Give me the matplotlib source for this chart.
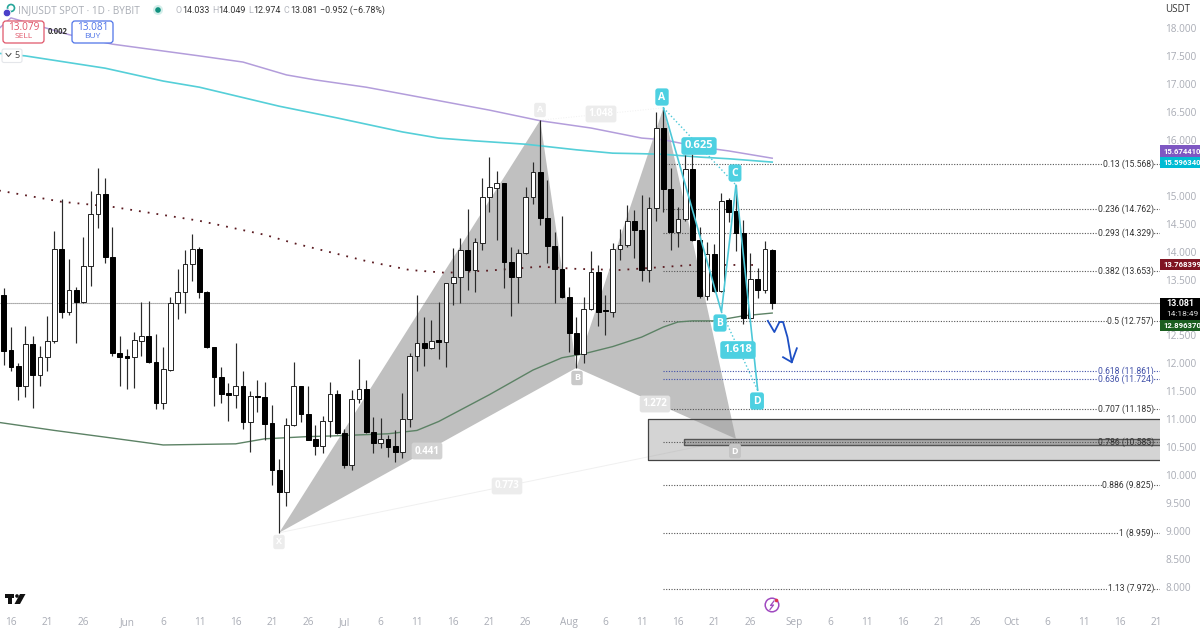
import numpy as np
import matplotlib
matplotlib.use('Agg')
import matplotlib.pyplot as plt
from matplotlib.patches import Rectangle, FancyBboxPatch, Circle, Polygon

plt.rcParams['font.family'] = ['Open Sans', 'DejaVu Sans']

# Daily candles, bar 0 = 15 May
opens = [13.22, 12.24, 11.95, 11.59, 12.35, 11.79, 12.11, 12.40, 14.05, 12.92, 13.31, 13.10, 13.74, 14.67, 15.03, 13.90,
         12.19, 12.12, 12.11, 12.40, 12.49, 12.02, 11.29, 11.88, 13.08, 13.28, 13.78, 14.05, 13.28, 12.29, 11.76, 11.46,
         11.43, 11.59, 10.95, 11.41, 11.40, 10.93, 10.09, 9.70, 10.90, 11.59, 11.09, 10.65, 10.52, 10.97, 11.45, 10.75,
         10.18, 11.36, 11.54, 10.77, 10.58, 10.65, 10.52, 10.41, 11.00, 12.13, 12.36, 12.27, 12.42, 12.38, 13.44, 13.54,
         14.03, 13.67, 14.15, 14.98, 15.14, 15.23, 13.81, 13.54, 13.97, 14.98, 15.42, 14.60, 14.10, 13.69, 13.19, 12.54,
         12.17, 12.97, 13.63, 12.94, 12.92, 14.05, 14.12, 14.55, 14.39, 13.67, 14.78, 16.21, 15.12, 14.35, 14.58, 15.48,
         14.21, 13.20, 13.96, 13.29, 14.92, 14.73, 14.33, 12.81, 13.51, 13.31, 14.033]
highs = [13.35, 12.65, 12.01, 12.67, 12.49, 12.31, 12.85, 14.37, 14.94, 13.87, 13.37, 14.26, 15.08, 15.49, 15.32, 14.44,
         12.49, 12.26, 12.56, 13.10, 13.12, 12.53, 12.29, 13.19, 13.69, 14.03, 14.31, 14.08, 13.29, 12.29, 11.93, 11.65,
         12.36, 11.86, 11.51, 11.70, 11.67, 11.25, 10.29, 11.02, 12.02, 11.59, 11.59, 10.90, 11.06, 11.67, 11.52, 10.83,
         11.52, 12.08, 11.70, 11.04, 11.02, 10.72, 10.81, 11.47, 12.19, 13.22, 12.83, 12.78, 13.10, 13.44, 14.06, 14.24,
         14.76, 14.24, 15.32, 15.69, 15.44, 15.23, 14.08, 14.05, 15.15, 15.60, 16.35, 15.28, 14.35, 14.64, 13.37, 12.83,
         13.19, 14.01, 13.76, 13.22, 14.15, 14.40, 14.83, 14.74, 15.01, 14.98, 16.50, 16.57, 15.49, 14.80, 15.73, 15.74,
         14.44, 14.17, 14.13, 15.05, 14.96, 15.19, 14.56, 13.97, 13.71, 14.19, 14.049]
lows = [11.97, 11.86, 11.34, 11.40, 11.20, 11.59, 11.86, 12.36, 12.81, 12.86, 12.36, 13.08, 13.38, 14.42, 13.80, 12.13,
        11.59, 11.54, 11.56, 12.13, 12.01, 11.18, 11.18, 11.86, 12.79, 12.90, 13.47, 13.17, 12.27, 11.24, 11.29, 10.97,
        11.20, 10.83, 10.41, 11.13, 10.63, 9.82, 8.97, 9.45, 10.88, 10.95, 10.63, 10.36, 10.40, 10.68, 10.74, 10.13,
        10.09, 11.29, 10.75, 10.40, 10.49, 10.32, 10.24, 10.31, 10.86, 11.86, 11.95, 12.26, 12.08, 11.93, 13.04, 13.08,
        13.31, 13.28, 14.03, 14.71, 14.21, 13.35, 12.85, 13.08, 13.96, 14.85, 14.47, 13.80, 13.08, 13.17, 12.20, 11.92,
        12.01, 12.95, 12.67, 12.51, 12.83, 13.85, 14.08, 13.88, 13.47, 13.46, 14.55, 14.71, 14.03, 14.08, 14.55, 14.19,
        13.17, 13.13, 13.28, 13.28, 14.53, 14.01, 12.70, 12.79, 13.17, 13.26, 12.974]
closes = [12.22, 11.93, 11.59, 12.35, 11.79, 12.11, 12.40, 14.05, 12.92, 13.31, 13.10, 13.74, 14.67, 15.03, 13.90, 12.19,
          12.11, 12.10, 12.42, 12.49, 12.02, 11.29, 11.90, 13.08, 13.28, 13.78, 14.05, 13.28, 12.29, 11.76, 11.45, 11.44,
          11.59, 10.95, 11.42, 11.39, 10.91, 10.09, 9.70, 10.90, 11.59, 11.09, 10.63, 10.52, 10.97, 11.45, 10.75, 10.18,
          11.36, 11.54, 10.77, 10.58, 10.65, 10.50, 10.41, 11.00, 12.13, 12.36, 12.27, 12.40, 12.38, 13.44, 13.54, 14.03,
          13.67, 14.17, 14.98, 15.15, 15.23, 13.81, 13.54, 13.97, 14.98, 15.42, 14.60, 14.10, 13.69, 13.19, 12.54, 12.17,
          12.97, 13.63, 12.92, 12.93, 14.05, 14.12, 14.55, 14.39, 13.67, 14.78, 16.21, 15.12, 14.35, 14.58, 15.48, 14.21,
          13.20, 13.96, 13.29, 14.90, 14.71, 14.33, 12.81, 13.51, 13.31, 14.05, 13.081]

purple_x = [-1, 1, 9, 15, 19, 27, 33, 39, 43, 50, 55, 67, 74, 81, 88, 91, 96, 100, 106]
purple_y = [17.95, 18.18, 17.88, 17.71, 17.64, 17.50, 17.39, 17.16, 17.07, 16.94, 16.82, 16.53, 16.34, 16.21, 16.03, 16.0, 15.87, 15.80, 15.67]
cyan_x = [-1, 3, 14, 22, 27, 38, 46, 55, 60, 65, 72, 79, 84, 88, 91, 96, 100, 106]
cyan_y = [17.55, 17.50, 17.28, 17.05, 16.94, 16.60, 16.39, 16.14, 16.03, 15.98, 15.92, 15.82, 15.76, 15.75, 15.74, 15.69, 15.66, 15.60]
red_x = [-1, 8, 12, 15, 27, 36, 40, 50, 56, 61, 67, 74, 79, 85, 95, 100, 104]
red_y = [15.10, 14.89, 14.84, 14.80, 14.55, 14.30, 14.15, 13.83, 13.67, 13.62, 13.66, 13.73, 13.69, 13.67, 13.76, 13.76, 13.76]
green_x = [-1, 7, 14, 22, 32, 36, 42, 45, 49, 53, 57, 60, 67, 73, 77, 80, 84, 88, 91, 93, 95, 98, 102, 106]
green_y = [10.95, 10.80, 10.68, 10.54, 10.56, 10.65, 10.69, 10.70, 10.72, 10.74, 10.80, 10.96, 11.44, 11.88, 12.10, 12.17, 12.30, 12.47, 12.65, 12.74, 12.76, 12.76, 12.85, 12.90]

# Harmonic patterns
gray_x = [38, 74, 79, 91, 101]
gray_y = [8.97, 16.35, 11.92, 16.57, 10.65]
cyan_pat_x = [91, 99, 101, 104]
cyan_pat_y = [16.57, 12.92, 15.19, 11.52]

# Fibonacci levels
fib_ratio = ['0.13', '0.236', '0.293', '0.382', '0.5', '0.618', '0.636', '0.707', '0.786', '0.886', '1', '1.13']
fib_price = [15.568, 14.762, 14.329, 13.653, 12.757, 11.861, 11.724, 11.185, 10.585, 9.825, 8.959, 7.972]
fib_blue = ['0.618', '0.636']

# Demand zone
zone_top, zone_bottom = 11.0, 10.27
zone_inner_top, zone_inner_bottom = 10.65, 10.54

# Hand drawn arrow
arrow_x = [105.4, 106.3, 107.0, 107.5, 108.1, 108.7]
arrow_y = [12.76, 12.56, 12.74, 12.74, 12.47, 12.02]
head_x = [107.5, 108.7, 109.4]
head_y = [12.11, 12.02, 12.27]

last_price = 13.081

date_ticks = [1, 6, 11, 17, 22, 27, 32, 37, 42, 47, 52, 57, 62, 67, 72, 78, 83, 88, 93, 98, 103, 109, 114, 119, 124,
              129, 134, 139, 144, 149, 154, 159]
date_labels = ['16', '21', '26', 'Jun', '6', '11', '16', '21', '26', 'Jul', '6', '11', '16', '21', '26', 'Aug', '6',
               '11', '16', '21', '26', 'Sep', '6', '11', '16', '21', '26', 'Oct', '6', '11', '16', '21']
price_ticks = [18, 17.5, 17, 16.5, 16, 15, 14.5, 14, 13.5, 12.5, 12, 11.5, 11, 10.5, 10, 9.5, 9, 8.5, 8]

fig = plt.figure(figsize=(12, 6.35), dpi=100, facecolor='white')
ax = fig.add_axes([0, 22 / 635, 1160 / 1200, 613 / 635])
ax.set_xlim(-0.51, 159.49)
ax.set_ylim(7.534, 18.5)
for s in ax.spines.values():
    s.set_visible(False)

# pattern fills
ax.add_patch(Polygon(list(zip(gray_x[:3], gray_y[:3])), closed=True, fc='#c0c0c0', ec='none', zorder=1))
ax.add_patch(Polygon(list(zip(gray_x[2:], gray_y[2:])), closed=True, fc='#c0c0c0', ec='none', zorder=1))
ax.plot([gray_x[0], gray_x[4]], [gray_y[0], gray_y[4]], color='#f0f0f0', lw=0.7, zorder=1)
ax.plot([gray_x[1], gray_x[3]], [gray_y[1], gray_y[3]], color='#f0f0f0', lw=0.7, ls=':', zorder=1)

# zone
ax.add_patch(Rectangle((88.87, zone_bottom), 71, zone_top - zone_bottom, fc='#999999', alpha=0.42, ec='none', zorder=2))
ax.plot([159.49, 88.87, 88.87, 159.49], [zone_top, zone_top, zone_bottom, zone_bottom], color='#444444', lw=0.9, zorder=2)
ax.add_patch(Rectangle((93.8, zone_inner_bottom), 66, zone_inner_top - zone_inner_bottom, fc='#a8a8a8', ec='#555555', lw=1.0, zorder=2))

# fib levels
for ratio, price in zip(fib_ratio, fib_price):
    col = '#3f4fa8' if ratio in fib_blue else '#555555'
    ax.plot([91, 159.49], [price, price], color=col, lw=0.8, ls=(0, (1, 1.4)), zorder=2)
    ax.text(158.65, price, f'{ratio} ({price:.3f})', ha='right', va='center', fontsize=6.2, family='Roboto',
            color=col if ratio in fib_blue else '#333333',
            bbox=dict(fc='white', ec='none', pad=0.2, alpha=0 if ratio == '0.786' else 1), zorder=3)

ax.axhline(last_price, color='#777777', lw=0.8, ls=(0, (1, 0.8)), zorder=2)

# moving averages
ax.plot(green_x, green_y, color='#5c8265', lw=1.0, zorder=3)
ax.plot(red_x, red_y, color='#5a1a20', lw=1.3, ls=(0, (1, 3.9)), zorder=3)
ax.plot(purple_x, purple_y, color='#b39ddb', lw=1.1, zorder=3)
ax.plot(cyan_x, cyan_y, color='#55cfd8', lw=1.2, zorder=3)

# candles
idx = np.arange(len(opens))
o = np.array(opens)
c = np.array(closes)
body_bottom = np.minimum(o, c)
body_height = np.maximum(np.abs(c - o), 0.03)
ax.vlines(idx, lows, highs, color='#2a2a2a', lw=0.85, zorder=4)
up = c >= o
ax.bar(idx[up], body_height[up], 0.64, bottom=body_bottom[up], fc='white', ec='#222222', lw=0.7, zorder=5)
ax.bar(idx[~up], body_height[~up], 0.64, bottom=body_bottom[~up], fc='black', ec='black', lw=0.7, zorder=5)

# cyan pattern on top
ax.plot(cyan_pat_x, cyan_pat_y, color='#4dc8d8', lw=1.2, zorder=6)
ax.plot(cyan_pat_x[::2], cyan_pat_y[::2], color='#4dc8d8', lw=1.0, ls=':', zorder=6)
ax.plot(cyan_pat_x[1::2], cyan_pat_y[1::2], color='#4dc8d8', lw=1.0, ls=':', zorder=6)

# arrow
ax.plot(arrow_x, arrow_y, color='#1d4fc4', lw=1.3, zorder=6)
ax.plot(head_x, head_y, color='#1d4fc4', lw=1.3, zorder=6)

# axes labels
ax.set_xticks(date_ticks)
ax.set_xticklabels(date_labels)
ax.yaxis.tick_right()
ax.set_yticks(price_ticks)
ax.set_yticklabels([f'{p:.3f}' for p in price_ticks])
ax.tick_params(axis='x', length=0, pad=3, labelsize=7.2, labelcolor='#a9acb5')
ax.tick_params(axis='y', length=0, pad=4, labelsize=7.2, labelcolor='#a9acb5')

# screen furniture, in pixels
ui = fig.add_axes([0, 0, 1, 1], facecolor='none')
ui.set_xlim(0, 1200)
ui.set_ylim(635, 0)
ui.axis('off')


def tag(x, y, s, fc='#4dd0e1', col='white', size=7.5, weight='bold'):
    ui.text(x, y, s, ha='center', va='center', fontsize=size, color=col, fontweight=weight,
            bbox=dict(boxstyle='round,pad=0.3,rounding_size=0.25', fc=fc, ec='none'))


# faint pattern labels
tag(279, 542, 'X', fc='#ececec', size=6.5)
tag(540, 110, 'A', fc='#ececec', size=6.5)
tag(577, 378, 'B', fc='#c9c9c9', size=6.5)
tag(735, 451, 'D', fc='#c4c4c4', size=6.5)
tag(601, 114, '1.048', fc='#ececec', size=7)
tag(427, 451, '0.441', fc='#d2d2d2', size=7)
tag(507, 486, '0.773', fc='#ececec', size=7)
tag(655, 404, '1.272', fc='#e2e2e2', size=7)

# cyan pattern labels
tag(662, 97, 'A')
tag(720, 323, 'B')
tag(735, 173, 'C')
tag(757, 401, 'D')
tag(699, 146, '0.625', size=8)
tag(738, 350, '1.618', size=8)

# price tags
tags = [(145, 157, '15.674410', '#7e57c2'), (157, 168, '15.596340', '#00bcd4'), (259, 270, '13.768399', '#7f1422'),
        (320, 331, '12.896370', '#1b5e20')]
ui.add_patch(Rectangle((1160, 298), 40, 22, fc='black', ec='none'))
ui.text(1166, 303.5, '13.081', fontsize=6.4, color='white', va='center', fontweight='bold', family='Roboto')
ui.text(1166, 313.5, '14:18:49', fontsize=6, color='#d8d8d8', va='center', family='Roboto')
for top, bottom, s, col in tags:
    ui.add_patch(Rectangle((1160, top), 40, bottom - top, fc=col, ec='none'))
    ui.text(1163, (top + bottom) / 2, s, fontsize=5.6, color='white', va='center', fontweight='bold', family='Roboto')
ui.text(1165, 10, 'USDT', fontsize=7, color='#333333', va='center')

# header
ui.add_patch(Circle((11, 8), 3.5, fc='white', ec='#26a69a', lw=1.2))
ui.add_patch(Circle((7, 13), 3.8, fc='#4a3fc9', ec='white', lw=0.6))
ui.text(18, 10.5, 'INJUSDT SPOT · 1D · BYBIT', fontsize=7.2, color='#a8acb4', va='center')
ui.add_patch(Circle((158, 10), 5, fc='#d3eeea', ec='none'))
ui.add_patch(Circle((158, 10), 2.8, fc='#12917f', ec='none'))
for x, s, col in [(175, 'O', '#b4b7bf'), (182, '14.033', '#333333'), (212, 'H', '#b4b7bf'), (218, '14.049', '#333333'),
                  (248, 'L', '#b4b7bf'), (253, '12.974', '#333333'), (283, 'C', '#b4b7bf'), (290, '13.081', '#333333'),
                  (320, '\u22120.952 (\u22126.78%)', '#333333')]:
    ui.text(x, 10.5, s, fontsize=6.4, color=col, va='center', family='Roboto')

# sell and buy boxes
for x0, price, word, col in [(3, '13.079', 'SELL', '#e0566a'), (72, '13.081', 'BUY', '#4f74e8')]:
    ui.add_patch(FancyBboxPatch((x0 + 2, 23), 37, 18, boxstyle='round,pad=2,rounding_size=3', fc='white', ec=col, lw=0.9))
    ui.text(x0 + 20.5, 27, price, fontsize=7.2, color=col, ha='center', va='center')
    ui.text(x0 + 20.5, 37, word, fontsize=6, color=col, ha='center', va='center')
ui.text(58, 32, '0.002', fontsize=5.6, color='#333333', ha='center', va='center', fontweight='bold')
ui.add_patch(FancyBboxPatch((4, 51), 16, 9.5, boxstyle='round,pad=2,rounding_size=2', fc='white', ec='#e4e6ea', lw=0.8))
ui.plot([6, 8.5, 11], [53.5, 56.5, 53.5], color='#444444', lw=0.7)
ui.text(17, 55.5, '5', fontsize=6.5, color='#444444', ha='center', va='center')

# TradingView logo
ui.add_patch(Polygon([(5, 594), (14, 594), (14, 597.5), (11.5, 597.5), (11.5, 604), (8, 604), (8, 597.5), (5, 597.5)], fc='#111111', ec='none'))
ui.add_patch(Circle((17, 596), 1.8, fc='#111111', ec='none'))
ui.add_patch(Polygon([(20, 594), (25.5, 594), (20, 604), (14.5, 604)], fc='#111111', ec='none'))

# lightning icon
ui.add_patch(Circle((772, 605), 6.8, fc='white', ec='#a04ac0', lw=1.1))
ui.plot([774, 770.5, 773.5, 770], [601, 605.5, 605, 609.5], color='#a04ac0', lw=0.9)
ui.add_patch(Circle((776.5, 600.5), 1.8, fc='#e03050', ec='none'))

fig.savefig('out.png', dpi=100, facecolor='white')
